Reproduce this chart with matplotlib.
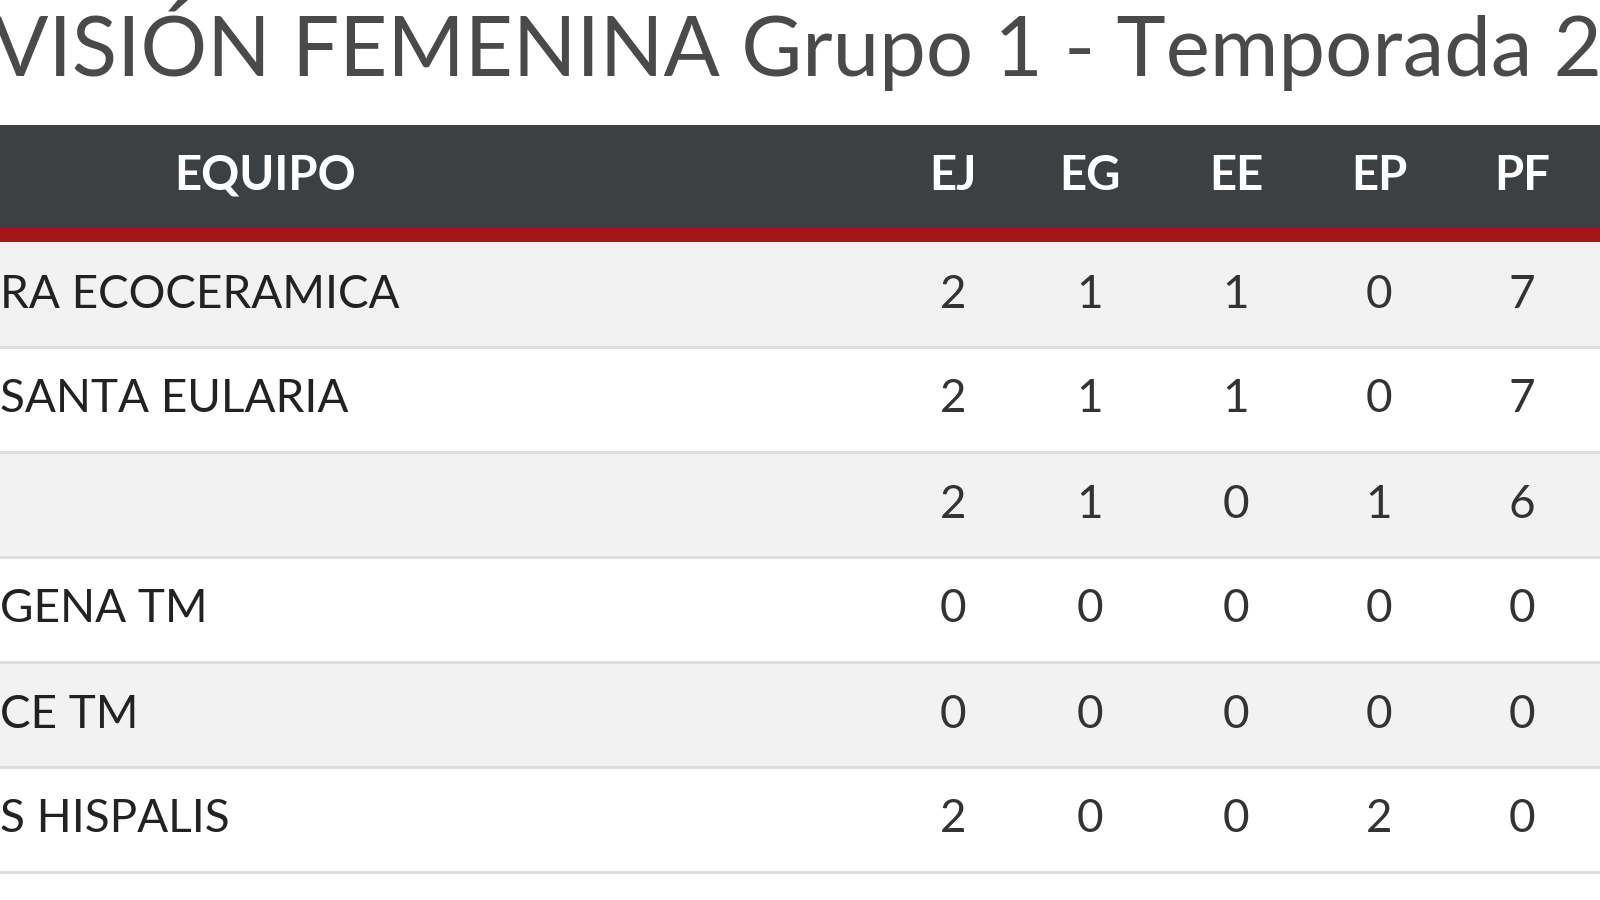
import matplotlib
matplotlib.use('Agg')
import matplotlib.pyplot as plt
from matplotlib.patches import Rectangle

plt.rcParams['font.family'] = ['Lato', 'DejaVu Sans']

title = "VISIÓN FEMENINA Grupo 1 - Temporada 2"
columns = ['EJ', 'EG', 'EE', 'EP', 'PF']
teams = ['RA ECOCERAMICA', 'SANTA EULARIA', '', 'GENA TM', 'CE TM', 'S HISPALIS']
ej = [2, 2, 2, 0, 0, 2]
eg = [1, 1, 1, 0, 0, 0]
ee = [1, 1, 0, 0, 0, 0]
ep = [0, 0, 1, 0, 0, 2]
pf = [7, 7, 6, 0, 0, 0]
values = [ej, eg, ee, ep, pf]

col_x = [953, 1090, 1236, 1379, 1522]
row_top = 242
row_h = 105

fig = plt.figure(figsize=(16, 9), dpi=100)
ax = fig.add_axes([0, 0, 1, 1])
ax.set_xlim(0, 1600)
ax.set_ylim(900, 0)
ax.set_axis_off()

ax.text(-8, 45, title, fontsize=60, color='#4a4a4a', va='center', ha='left')

# header band
ax.add_patch(Rectangle((0, 125), 1600, 103, color='#3d4043', lw=0))
ax.add_patch(Rectangle((0, 228), 1600, 14, color='#a3161a', lw=0))
ax.text(265, 176, 'EQUIPO', fontsize=34, color='white', fontweight='bold', ha='center', va='center')
for x, c in zip(col_x, columns):
    ax.text(x, 176, c, fontsize=34, color='white', fontweight='bold', ha='center', va='center')

for i, team in enumerate(teams):
    y0 = row_top + i * row_h
    face = '#f2f2f2' if i % 2 == 0 else 'white'
    ax.add_patch(Rectangle((0, y0), 1600, row_h, color=face, lw=0))
    ax.plot([0, 1600], [y0 + row_h, y0 + row_h], color='#dcdcdc', lw=2)
    yc = y0 + row_h / 2
    ax.text(0, yc, team, fontsize=33, color='#222222', ha='left', va='center')
    for x, col in zip(col_x, values):
        ax.text(x, yc, str(col[i]), fontsize=33, color='#333333', ha='center', va='center')

fig.savefig('out.png', dpi=100)
